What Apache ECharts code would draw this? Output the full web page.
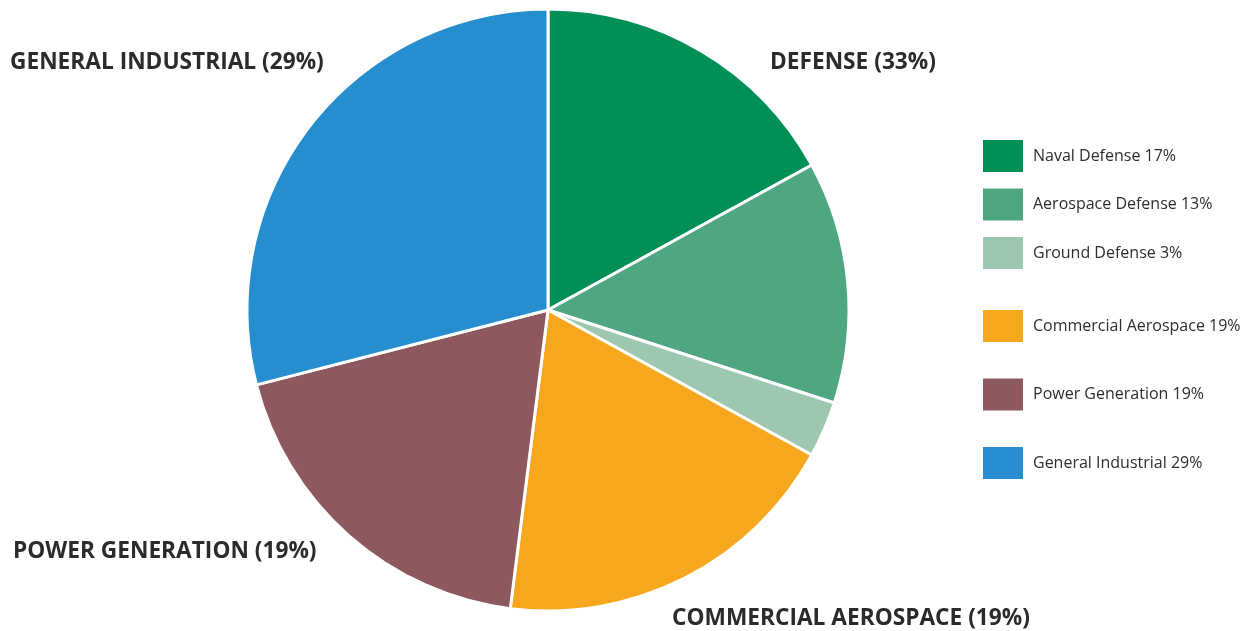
<!DOCTYPE html>
<html><head><meta charset="utf-8">
<script src="https://cdn.jsdelivr.net/npm/echarts@6/dist/echarts.min.js"></script>
<style>html,body{margin:0;padding:0;background:#fff}#c{width:1245px;height:631px}</style>
</head><body><div id="c"></div>
<script>
const categories = ['Naval Defense','Aerospace Defense','Ground Defense','Commercial Aerospace','Power Generation','General Industrial'];
const values = [17, 13, 3, 19, 19, 29];
const colors = ['#008F56','#4FA781','#9DC7AF','#F7A71E','#8D585E','#268ECF'];
const groupLabels = ['DEFENSE (33%)','GENERAL INDUSTRIAL (29%)','POWER GENERATION (19%)','COMMERCIAL AEROSPACE (19%)'];

const chart = echarts.init(document.getElementById('c'));
const font = '"Open Sans", "Noto Sans", sans-serif';
const labelStyle = {fontFamily: font, fontWeight: 'bold', fontSize: 22.7, fill: '#2b2b2b'};
const legendCommon = {
  orient: 'vertical', left: 981, padding: 0, itemWidth: 42, itemHeight: 34, icon: 'rect',
  textStyle: {fontFamily: font, fontSize: 16, color: '#2e2e2e', padding: [0,0,0,4]},
  formatter: n => n + ' ' + values[categories.indexOf(n)] + '%',
  selectedMode: false
};
chart.setOption({
  animation: false,
  color: colors,
  legend: [
    Object.assign({}, legendCommon, {top: 138, itemGap: 12.5, data: categories.slice(0,3)}),
    Object.assign({}, legendCommon, {top: 308, itemGap: 32.5, data: categories.slice(3)})
  ],
  graphic: [
    {type:'text', left: 770, top: 51, style: Object.assign({text: groupLabels[0]}, labelStyle)},
    {type:'text', left: 10, top: 51, style: Object.assign({text: groupLabels[1]}, labelStyle)},
    {type:'text', left: 13, top: 540, style: Object.assign({text: groupLabels[2]}, labelStyle)},
    {type:'text', left: 672, top: 607, style: Object.assign({text: groupLabels[3]}, labelStyle)}
  ],
  series: [{
    type: 'pie',
    center: [548, 310],
    radius: [0, 301],
    startAngle: 90,
    clockwise: true,
    label: {show: false},
    labelLine: {show: false},
    itemStyle: {borderColor: '#fff', borderWidth: 3},
    emphasis: {disabled: true},
    data: categories.map((c, i) => ({name: c, value: values[i]}))
  }]
});
</script></body></html>
